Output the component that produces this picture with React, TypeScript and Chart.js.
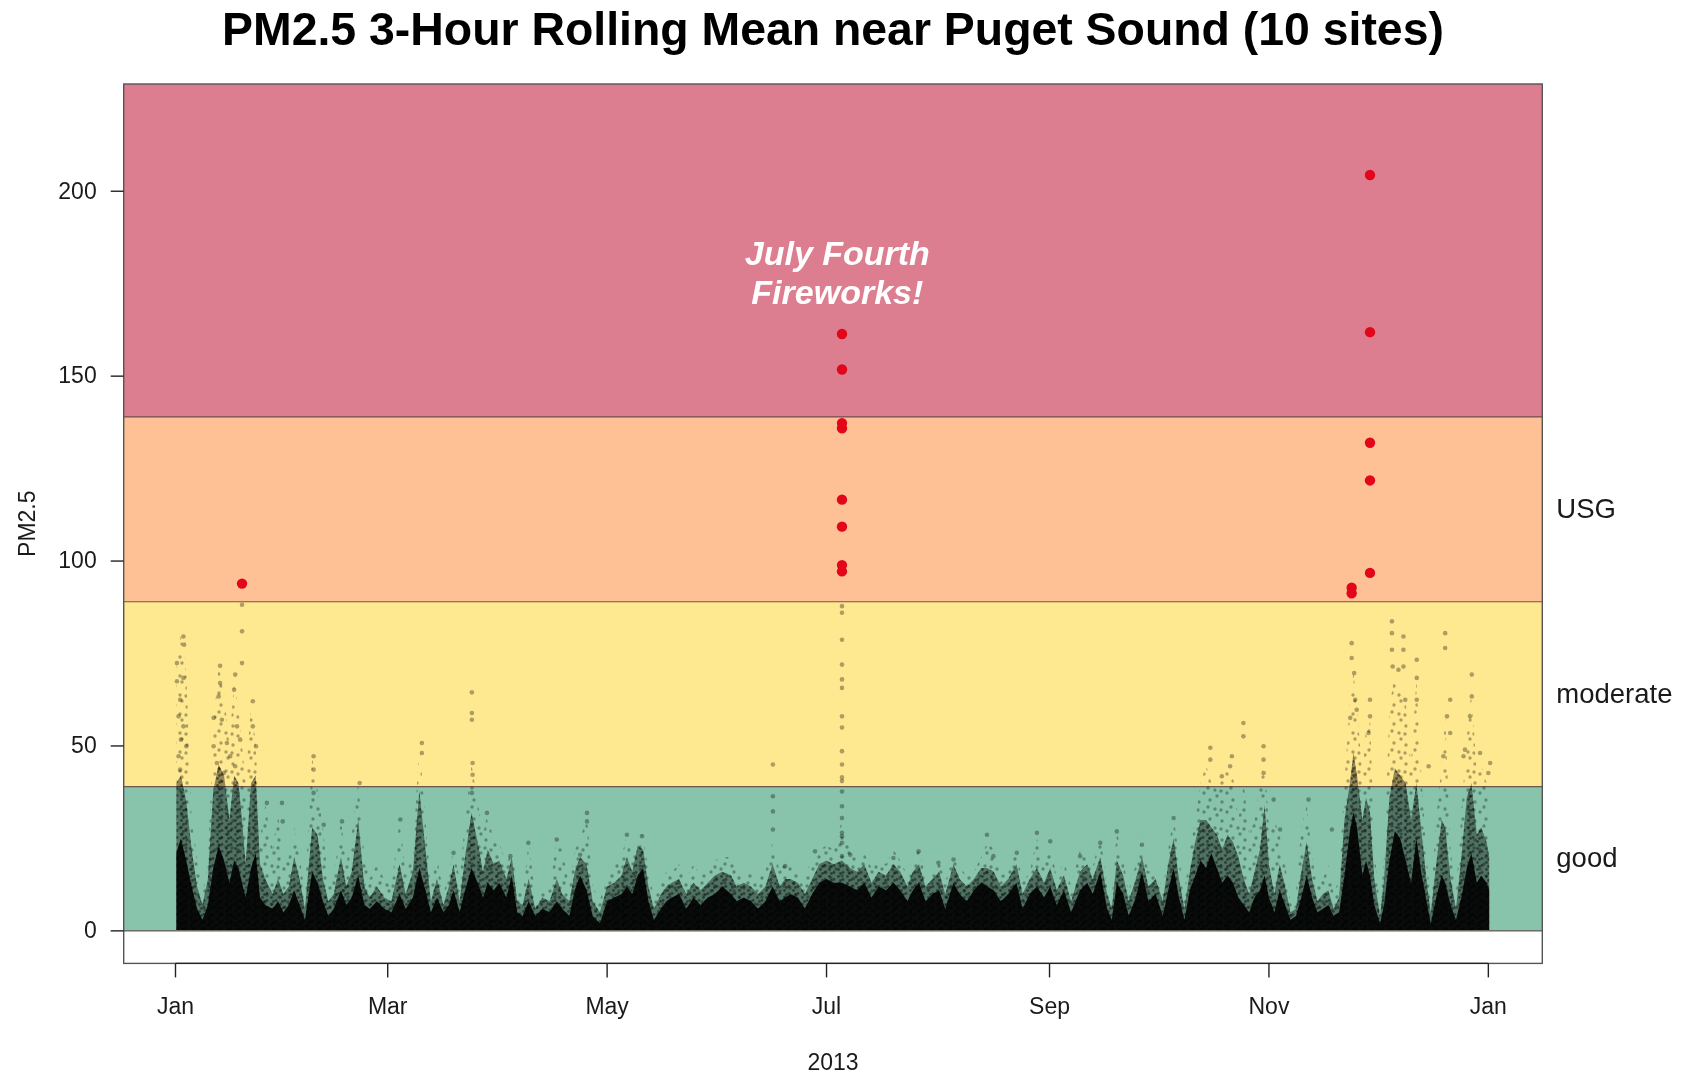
import React, { useEffect, useRef } from "react";
import { Chart, registerables } from "chart.js";

Chart.register(...registerables);

// ---------- text ----------
const TITLE = "PM2.5 3-Hour Rolling Mean near Puget Sound (10 sites)";
const X_TITLE = "2013";
const Y_TITLE = "PM2.5";
const NOTE_LINES = ["July Fourth", "Fireworks!"];
const NOTE_DAY = 184;
const NOTE_VALUES = [182.5, 172];

// ---------- axes ----------
const monthTickDays = [0, 59, 120, 181, 243, 304, 365];
const monthTickLabels = ["Jan", "Mar", "May", "Jul", "Sep", "Nov", "Jan"];
const yTickValues = [0, 50, 100, 150, 200];

// ---------- AQI bands ----------
const bandEdges = [0, 39, 89, 139, 229];
const bandColors = ["#88C4AB", "#FEE890", "#FDC195", "#DD7D90"];
const bandLabels = ["good", "moderate", "USG", ""];

// ---------- black point cloud (read as envelopes, days since Jan 1 2013) ----------
const envDays = [
  0.2, 1.5, 3, 4.5, 6, 7.5, 9, 10.5, 12, 13.5, 15, 16.3, 17.5, 18.5, 19.5, 21, 22.3, 23.5, 25, 27,
  28.5, 30, 31.5, 33, 34.5, 36, 38, 39.5, 41, 42.5, 44, 46, 47.5, 49, 50.8, 52.5, 54, 56, 58, 60,
  62.3, 64, 66, 67.8, 69.5, 71, 72.7, 74.5, 76, 77.3, 79, 80.5, 82.3, 84, 85.5, 86.8, 88.5, 90, 92, 93.5,
  95, 96.5, 98.2, 100, 102, 104, 106, 107.5, 109.5, 111, 112.5, 114.3, 116, 118, 120, 122, 124, 125.5, 127, 128.5,
  130, 131.5, 133, 135, 136.5, 138, 140, 142, 144, 146, 148, 150, 152, 154.5, 156, 158, 160, 162, 164, 166,
  168, 169.5, 171, 173, 175, 177, 179, 181, 183, 185.3, 187.5, 189.5, 191.5, 193.5, 195.5, 197.5, 199.6, 201.5, 203.5, 205,
  206.7, 208.5, 210.5, 212.3, 214, 216.3, 218, 220, 222, 224, 225.7, 227.5, 229.5, 231.5, 233.8, 235.5, 237.5, 239.5, 241.5, 243.2,
  245, 247, 249, 251.5, 253.5, 255, 257.1, 259, 260.3, 261.7, 263.5, 265, 267, 268.7, 270.5, 272.5, 274.5, 276, 277.5, 279,
  280.5, 282, 283.5, 285, 286.5, 288, 289.5, 291, 292.5, 294, 295.5, 297, 298.5, 300, 301.5, 302.8, 304, 305.5, 307, 308.5,
  310, 311.5, 313, 314.5, 316, 317.5, 319, 320.5, 322, 323.5, 325, 326.5, 327.5, 328.5, 330, 331, 332.1, 333.3, 334.9, 336,
  337.5, 339, 340.5, 342, 343.5, 345, 346.5, 348, 349, 350.5, 352, 353, 354.5, 356, 357.5, 359, 360.3, 361.8, 363, 364.5,
  365.3,
];
const coreTop = [
  21, 25, 19, 12, 6, 3, 7, 17, 23, 19, 13, 19, 17, 13, 9, 17, 21, 9, 7, 6,
  8, 5, 7, 11, 7, 3, 16, 13, 8, 4, 6, 11, 7, 9, 15, 7, 6, 8, 6, 5,
  10, 6, 9, 17, 11, 5, 9, 5, 7, 11, 5, 11, 17, 13, 9, 13, 11, 13, 9, 15,
  5, 4, 8, 4, 6, 5, 8, 6, 4, 11, 15, 11, 4, 2, 8, 9, 10, 12, 10, 15,
  17, 8, 3, 6, 8, 9, 10, 6, 9, 7, 9, 10, 12, 10, 8, 9, 8, 6, 8, 12,
  8, 9, 10, 9, 6, 10, 13, 14, 13, 13, 12, 11, 13, 9, 12, 11, 13, 11, 8, 11,
  13, 8, 10, 11, 6, 13, 10, 8, 11, 13, 12, 11, 8, 10, 13, 6, 10, 12, 9, 12,
  7, 11, 5, 11, 13, 10, 16, 6, 3, 13, 10, 4, 9, 16, 8, 10, 4, 11, 17, 9,
  3, 11, 15, 19, 17, 21, 17, 13, 15, 13, 9, 7, 5, 9, 11, 15, 9, 5, 11, 7,
  3, 4, 9, 15, 9, 5, 6, 7, 4, 5, 15, 27, 32, 28, 15, 19, 15, 7, 2, 7,
  19, 27, 25, 19, 13, 25, 15, 7, 2, 9, 15, 13, 7, 3, 9, 17, 21, 13, 15, 13,
  11,
];
const denseTop = [
  40, 42, 35, 22, 12, 7, 14, 38, 45, 42, 30, 42, 40, 30, 18, 40, 42, 18, 14, 10,
  14, 10, 12, 20, 14, 6, 28, 26, 14, 8, 10, 20, 12, 16, 30, 12, 9, 12, 9, 8,
  18, 10, 16, 38, 22, 8, 14, 7, 12, 18, 8, 20, 32, 24, 16, 22, 18, 19, 14, 20,
  8, 7, 14, 6, 9, 8, 14, 10, 8, 16, 20, 18, 8, 5, 12, 13, 15, 20, 16, 23,
  22, 12, 6, 10, 12, 13, 14, 10, 13, 11, 13, 15, 16, 15, 12, 13, 12, 10, 12, 18,
  12, 14, 14, 13, 10, 14, 18, 19, 18, 19, 17, 16, 18, 13, 16, 15, 18, 16, 12, 16,
  18, 12, 14, 16, 10, 18, 14, 12, 14, 17, 17, 16, 12, 14, 18, 10, 14, 17, 13, 17,
  11, 15, 8, 16, 18, 14, 20, 10, 6, 19, 15, 8, 14, 20, 12, 14, 8, 18, 25, 14,
  6, 16, 24, 30, 30, 28, 26, 22, 26, 24, 20, 14, 10, 16, 22, 34, 18, 10, 18, 12,
  5, 6, 16, 24, 14, 8, 10, 11, 6, 9, 30, 40, 48, 42, 30, 36, 32, 14, 4, 14,
  36, 44, 42, 40, 30, 40, 26, 12, 5, 18, 30, 28, 14, 6, 20, 36, 40, 26, 28, 24,
  20,
];
const hazeTop = [
  72, 80, 70, 30, 20, 10, 18, 55, 72, 64, 50, 68, 60, 50, 40, 62, 50, 25, 34, 22,
  32, 18, 20, 28, 20, 10, 47, 38, 28, 12, 14, 30, 18, 26, 40, 20, 14, 18, 14, 12,
  30, 16, 20, 51, 30, 12, 20, 10, 16, 22, 14, 30, 45, 35, 26, 32, 24, 24, 18, 22,
  12, 10, 24, 10, 12, 11, 25, 22, 12, 22, 24, 32, 12, 8, 16, 18, 20, 26, 20, 26,
  26, 16, 9, 14, 16, 16, 18, 14, 18, 15, 16, 19, 20, 20, 16, 16, 16, 14, 16, 24,
  16, 19, 18, 16, 14, 21, 22, 23, 22, 30, 22, 20, 21, 17, 19, 18, 22, 19, 15, 20,
  22, 15, 16, 20, 13, 21, 17, 15, 16, 20, 24, 22, 15, 16, 22, 13, 16, 25, 17, 24,
  14, 19, 12, 22, 20, 17, 26, 12, 9, 27, 19, 11, 18, 25, 16, 17, 11, 22, 31, 20,
  10, 22, 30, 40, 45, 40, 38, 42, 44, 42, 30, 40, 26, 30, 40, 46, 28, 30, 26, 18,
  8, 10, 28, 34, 20, 12, 14, 18, 10, 14, 40, 62, 70, 60, 42, 55, 58, 22, 6, 20,
  60, 70, 65, 62, 45, 68, 40, 18, 8, 30, 45, 58, 22, 10, 32, 52, 65, 42, 45, 40,
  30,
];

// individually visible sparse points above the cloud
const dotDays = [
  0.4, 2.2, 2.4, 0.4, 2.2, 1.3, 0.85, 2.2, 1.5, 3, 0.85, 1.3,
  12.4, 12.4, 12, 10.6, 12.9, 16.6, 16.3, 17.1, 18.5, 18.5, 18.5, 21.5, 21.5, 22.4, 10.6, 14.3, 15.2, 11.5, 16.6, 18, 13.4,
  38.4, 38.4, 38.4, 51.2, 25.4, 29.6, 29.8, 68.5, 68.5, 82.4, 82.4, 82.4, 82.6, 82.6, 82.4, 86.6, 62.5, 46.3, 41.2, 77.3,
  166.1, 166.1, 166.1, 166.1, 114.4, 114.4, 106, 125.5, 129.7, 98.1, 112.5, 169.5, 177.8, 93.1,
  185.3, 185.3, 185.3, 185.3, 185.3, 185.3, 185.3, 185.3, 185.3, 185.3, 185.3, 185.3, 185.3, 185.3, 185.3, 185.3, 185.3, 185.3, 185.3,
  225.6, 239.5, 243.2, 261.7, 257.1, 268.7, 206.6, 187.6, 227.4, 199.6, 233.9, 251.5, 212.1, 216.3,
  327, 327, 327.7, 328, 328.4, 326.6, 332.1, 332.1, 331.7, 338.2, 338.2, 338.2, 338.4, 341.4, 341.4, 341.4, 340, 341.9,
  345.1, 345.1, 345.1, 353, 353, 354.4, 353.5, 354.4, 360.4, 360.4, 359.9, 358.5, 365.5, 365, 362.7,
  287.7, 287.7, 293.7, 293.2, 296.9, 296.9, 302.5, 302.5, 302.5, 305.3, 290.9, 277.5, 307.1, 315, 321.5, 348.4, 352.5, 358.1,
];
const dotValues = [
  72.4, 79.6, 77.4, 67.5, 68.4, 62.5, 58, 55.3, 51.7, 49.9, 47.2, 43.6,
  71.7, 67, 63.4, 57.6, 57.1, 69.3, 65.2, 55.3, 88.2, 81, 72.4, 62.1, 55.3, 49.9, 49.9, 50.8, 47.2, 45.4, 44.5, 51.7, 42.7,
  47.2, 43.6, 37.3, 40, 34.6, 34.6, 29.6, 50.8, 48.1, 64.5, 58.9, 57.1, 45.4, 42.2, 37.3, 31.9, 30.1, 29.6, 28.7, 21.1,
  45, 36.4, 32.3, 27.4, 31.9, 29.6, 24.7, 26, 25.6, 23.8, 20.6, 17.5, 21.5, 20.2,
  87.8, 86, 78.7, 72, 68, 65.7, 58, 55, 48.6, 45, 41.5, 40.5, 37.7, 33.7, 30.5, 26.5, 25.6, 23.8, 20.2,
  26, 26.5, 24.2, 26.9, 23.8, 23.3, 21.5, 20.6, 20.2, 19.7, 21.1, 20.2, 18.4, 19.3,
  77.8, 73.8, 69.7, 62.5, 59.8, 57.6, 62.5, 58, 53.5, 83.7, 80.5, 76, 71.5, 79.6, 76, 71.5, 70.6, 62.5,
  73.3, 68.4, 62.5, 80.5, 76.5, 62.5, 58, 53.5, 69.3, 63.4, 58, 49, 45.4, 42.7, 48.1,
  49.5, 46.3, 47.2, 44.5, 56.2, 52.6, 49.9, 46.3, 42.7, 35.5, 41.8, 30.5, 27.4, 35.5, 27.4, 44.5, 47.2, 47.2,
];

// red: values above the USG threshold
const redDays = [
  18.5,
  185.3, 185.3, 185.3, 185.3, 185.3, 185.3, 185.3, 185.3,
  332.1, 332.1, 332.1, 332.1, 332.1, 327, 327,
];
const redValues = [
  93.9,
  161.4, 151.8, 137.3, 135.9, 116.6, 109.3, 98.9, 97.2,
  204.4, 161.9, 132.0, 121.8, 96.8, 92.8, 91.3,
];

const FONT = '"Liberation Sans", Arial, Helvetica, sans-serif';

const pts = (xs: number[], ys: number[]) => xs.map((x, i) => ({ x, y: ys[i] }));

// stipple fill styles that mimic overlapping translucent points
function makeStipple(w: number, h: number, base: string, dot: string, spots: number[][], r: number) {
  const c = document.createElement("canvas");
  c.width = w;
  c.height = h;
  const g = c.getContext("2d")!;
  if (base) {
    g.fillStyle = base;
    g.fillRect(0, 0, w, h);
  }
  g.fillStyle = dot;
  spots.forEach(([sx, sy]) => {
    g.beginPath();
    g.arc(sx, sy, r, 0, Math.PI * 2);
    g.fill();
  });
  return g.createPattern(c, "repeat");
}

const decor = {
  id: "decor",
  beforeDatasetsDraw(chart: any) {
    const { ctx, chartArea: a, scales } = chart;
    const y = scales.y;
    ctx.save();
    for (let i = 0; i < bandColors.length; i++) {
      const top = Math.max(a.top, y.getPixelForValue(bandEdges[i + 1]));
      const bot = y.getPixelForValue(bandEdges[i]);
      ctx.fillStyle = bandColors[i];
      ctx.fillRect(a.left, top, a.right - a.left, bot - top);
    }
    ctx.strokeStyle = "rgba(80,50,50,0.8)";
    ctx.lineWidth = 1.2;
    for (let i = 0; i < bandEdges.length - 1; i++) {
      const py = y.getPixelForValue(bandEdges[i]);
      ctx.beginPath();
      ctx.moveTo(a.left, py);
      ctx.lineTo(a.right, py);
      ctx.stroke();
    }
    ctx.restore();
  },
  afterDatasetsDraw(chart: any) {
    const { ctx, scales } = chart;
    ctx.save();
    ctx.fillStyle = "#ffffff";
    ctx.font = `italic bold 34px ${FONT}`;
    ctx.textAlign = "center";
    ctx.textBaseline = "middle";
    NOTE_LINES.forEach((t, i) => {
      ctx.fillText(t, scales.x.getPixelForValue(NOTE_DAY), scales.y.getPixelForValue(NOTE_VALUES[i]));
    });
    ctx.restore();
  },
  afterDraw(chart: any) {
    const { ctx, chartArea: a, scales } = chart;
    const x = scales.x;
    const y = scales.y;
    ctx.save();
    ctx.strokeStyle = "#555";
    ctx.lineWidth = 1.4;
    ctx.strokeRect(a.left, a.top, a.right - a.left, a.bottom - a.top);

    ctx.strokeStyle = "#222";
    ctx.fillStyle = "#1a1a1a";
    ctx.lineWidth = 1.4;
    const x0 = x.getPixelForValue(monthTickDays[0]);
    const x1 = x.getPixelForValue(monthTickDays[monthTickDays.length - 1]);
    ctx.beginPath();
    ctx.moveTo(x0, a.bottom);
    ctx.lineTo(x1, a.bottom);
    ctx.stroke();
    ctx.font = `23px ${FONT}`;
    ctx.textAlign = "center";
    ctx.textBaseline = "alphabetic";
    monthTickDays.forEach((d, i) => {
      const px = x.getPixelForValue(d);
      ctx.beginPath();
      ctx.moveTo(px, a.bottom);
      ctx.lineTo(px, a.bottom + 14);
      ctx.stroke();
      ctx.fillText(monthTickLabels[i], px, 1014);
    });
    ctx.textAlign = "right";
    ctx.textBaseline = "middle";
    yTickValues.forEach((v) => {
      const py = y.getPixelForValue(v);
      ctx.beginPath();
      ctx.moveTo(a.left - 13, py);
      ctx.lineTo(a.left, py);
      ctx.stroke();
      ctx.fillText(String(v), a.left - 27, py + 1);
    });
    ctx.textAlign = "left";
    ctx.font = `27.5px ${FONT}`;
    for (let i = 0; i < bandLabels.length; i++) {
      if (!bandLabels[i]) continue;
      const mid = (bandEdges[i] + bandEdges[i + 1]) / 2;
      ctx.fillText(bandLabels[i], a.right + 14, y.getPixelForValue(mid) + 1);
    }
    ctx.font = `23px ${FONT}`;
    ctx.textAlign = "center";
    ctx.textBaseline = "alphabetic";
    ctx.fillText(X_TITLE, (a.left + a.right) / 2, 1070);
    ctx.save();
    ctx.translate(35, (a.top + a.bottom) / 2);
    ctx.rotate(-Math.PI / 2);
    ctx.fillText(Y_TITLE, 0, 0);
    ctx.restore();
    ctx.fillStyle = "#000";
    ctx.font = `bold 46.4px ${FONT}`;
    ctx.fillText(TITLE, (a.left + a.right) / 2, 45);
    ctx.restore();
  },
};

export default function App() {
  const ref = useRef<HTMLCanvasElement | null>(null);
  useEffect(() => {
    if (!ref.current) return;
    const denseFill = makeStipple(
      9, 7, "rgba(0,0,0,0.42)", "rgba(0,0,0,0.45)",
      [[1.5, 1.5], [6, 4.5], [3.5, 5.5]], 1.4,
    );
    const hazeFill = makeStipple(
      23, 19, "", "rgba(0,0,0,0.32)",
      [[3, 4], [14, 2], [19, 11], [8, 14], [12, 9], [21, 17], [2, 12]], 1.7,
    );
    const chart = new Chart(ref.current, {
      type: "scatter",
      data: {
        datasets: [
          {
            type: "scatter",
            data: pts(redDays, redValues),
            backgroundColor: "#E3061B",
            borderColor: "#E3061B",
            pointRadius: 5.2,
            pointBorderWidth: 0,
            order: 0,
          } as any,
          {
            type: "scatter",
            data: pts(dotDays, dotValues),
            backgroundColor: "rgba(0,0,0,0.32)",
            borderColor: "rgba(0,0,0,0)",
            pointRadius: 2.3,
            pointBorderWidth: 0,
            order: 1,
          } as any,
          {
            type: "line",
            data: pts(envDays, coreTop),
            borderWidth: 0,
            borderColor: "rgba(0,0,0,0)",
            backgroundColor: "rgba(0,0,0,0.9)",
            pointRadius: 0,
            tension: 0,
            fill: { value: 0.2 },
            order: 2,
          } as any,
          {
            type: "line",
            data: pts(envDays, denseTop),
            borderWidth: 0,
            borderColor: "rgba(0,0,0,0)",
            backgroundColor: denseFill,
            pointRadius: 0,
            tension: 0,
            fill: { value: 0.2 },
            order: 3,
          } as any,
          {
            type: "line",
            data: pts(envDays, hazeTop),
            borderWidth: 0,
            borderColor: "rgba(0,0,0,0)",
            backgroundColor: hazeFill,
            pointRadius: 0,
            tension: 0,
            fill: { value: 0.2 },
            order: 4,
          } as any,
        ],
      },
      options: {
        animation: false,
        responsive: false,
        devicePixelRatio: 1,
        layout: { padding: { left: 123.7, right: 143.7, top: 84, bottom: 112.6 } },
        scales: {
          x: { type: "linear", min: -14.4, max: 380, display: false },
          y: { type: "linear", min: -8.8, max: 229, display: false },
        },
        plugins: {
          legend: { display: false },
          tooltip: { enabled: false },
          title: { display: false },
        },
        events: [],
      } as any,
      plugins: [decor],
    });
    return () => chart.destroy();
  }, []);
  return (
    <div style={{ position: "absolute", left: 0, top: 0, width: 1686, height: 1076, background: "#fff" }}>
      <canvas ref={ref} width={1686} height={1076} style={{ display: "block" }} />
    </div>
  );
}
